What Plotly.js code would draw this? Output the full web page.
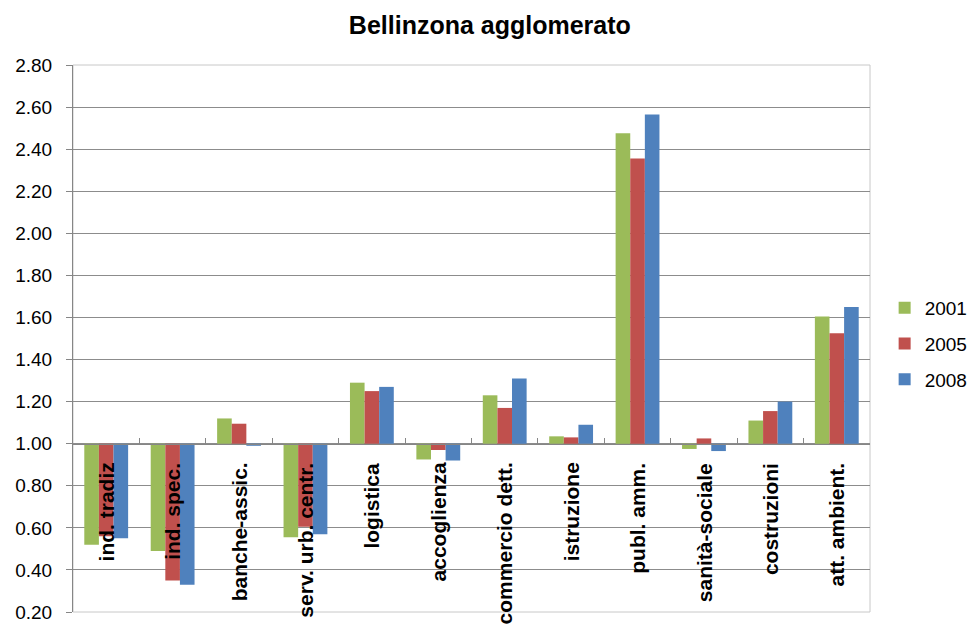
<!DOCTYPE html>
<html>
<head>
<meta charset="utf-8">
<script src="https://cdn.plot.ly/plotly-3.0.1.min.js"></script>
<style>html,body{margin:0;padding:0;background:#fff;}#chart{width:970px;height:626px;}</style>
</head>
<body>
<div id="chart"></div>
<script>
const categories = ["ind. tradiz", "ind. spec.", "banche-assic.", "serv. urb. centr.", "logistica", "accoglienza", "commercio dett.", "istruzione", "publ. amm.", "sanità-sociale", "costruzioni", "att. ambient."];
const years = ["2001", "2005", "2008"];
const v2001 = [0.52, 0.49, 1.12, 0.555, 1.29, 0.925, 1.23, 1.035, 2.475, 0.975, 1.11, 1.605];
const v2005 = [0.56, 0.35, 1.095, 0.605, 1.25, 0.97, 1.17, 1.03, 2.355, 1.025, 1.155, 1.525];
const v2008 = [0.55, 0.33, 0.99, 0.57, 1.27, 0.92, 1.31, 1.09, 2.565, 0.965, 1.20, 1.65];
const colors = ["#9BBB59", "#C0504D", "#4F81BD"];
const baseline = 1.0;
const yMin = 0.2, yMax = 2.8;
const yTicks = [0.2,0.4,0.6,0.8,1.0,1.2,1.4,1.6,1.8,2.0,2.2,2.4,2.6,2.8];

const series = [v2001, v2005, v2008];
const traces = series.map((vals, i) => ({
  type: "bar",
  name: years[i],
  x: categories,
  y: vals.map(v => v - baseline),
  base: baseline,
  marker: {color: colors[i], line: {width: 0}},
  legendgroup: "g" + i,
  hovertext: vals.map(v => v.toFixed(2)),
  hoverinfo: "text+name"
}));

const annotations = categories.map(c => ({
  x: c, y: baseline, xref: "x", yref: "y",
  text: c, textangle: -90, showarrow: false,
  xanchor: "center", yanchor: "top", yshift: -17,
  font: {family: "Liberation Sans, Arial, sans-serif", size: 21, color: "#000", weight: "bold"}
}));

const layout = {
  width: 970, height: 626,
  margin: {l: 73, r: 100, t: 65, b: 14},
  paper_bgcolor: "#fff", plot_bgcolor: "#fff",
  font: {family: "Liberation Sans, Arial, sans-serif", color: "#000"},
  title: {text: "<b>Bellinzona agglomerato</b>", x: 0.505, xanchor: "center", y: 0.96, yanchor: "middle", yref: "container",
          font: {size: 25, family: "Liberation Sans, Arial, sans-serif", color: "#000"}},
  barmode: "group", bargap: 0.34, bargroupgap: 0,
  xaxis: {
    type: "category", showticklabels: false, showgrid: false, zeroline: false,
    showline: true, linecolor: "#868686", linewidth: 1,
    ticks: "inside", ticklen: 6, tickcolor: "#868686", tickson: "boundaries",
    anchor: "free", position: (baseline - yMin) / (yMax - yMin)
  },
  yaxis: {
    range: [yMin, yMax], tickvals: yTicks, ticktext: yTicks.map(t => t.toFixed(2)),
    showgrid: true, gridcolor: "#8c8c8c", gridwidth: 1, zeroline: false,
    showline: true, linecolor: "#868686", linewidth: 1,
    ticks: "outside", ticklen: 6, tickcolor: "#868686",
    tickfont: {size: 19, color: "#000"}, ticklabelstandoff: 10
  },
  shapes: [{type: "rect", xref: "paper", yref: "paper", x0: 0, x1: 1, y0: 0, y1: 1,
            line: {color: "#c8c8c8", width: 1}, fillcolor: "rgba(0,0,0,0)", layer: "below"}],
  legend: {xref: "container", x: 0.912, xanchor: "left", y: 0.49, yanchor: "middle", traceorder: "grouped",
           tracegroupgap: 8, font: {size: 19, color: "#000"}, itemwidth: 30,
           bgcolor: "rgba(0,0,0,0)"},
  annotations: annotations,
  showlegend: true
};

Plotly.newPlot("chart", traces, layout, {displayModeBar: false, staticPlot: true});
</script>
</body>
</html>
